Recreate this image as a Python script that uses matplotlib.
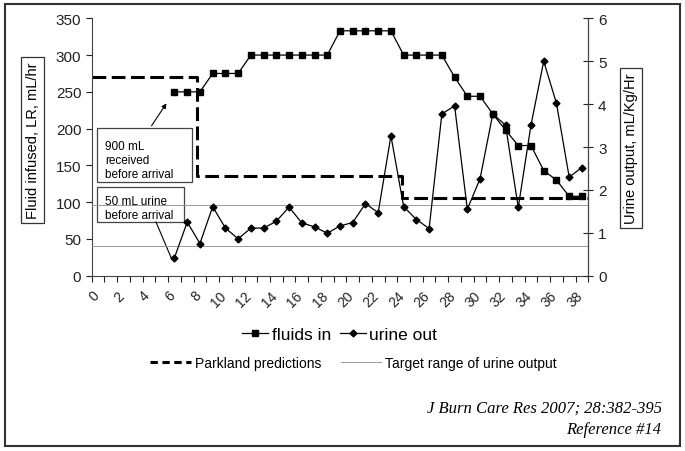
import matplotlib
matplotlib.use('Agg')
import matplotlib.pyplot as plt
from matplotlib.lines import Line2D
from matplotlib.patches import Rectangle
import numpy as np

plt.rcParams['font.family'] = ['Liberation Sans', 'DejaVu Sans']

# hourly data (category index = hour after burn)
hours = np.arange(6, 39)
fluids_in = [250, 250, 250, 275, 275, 275, 300, 300, 300, 300, 300, 300, 300,
             333, 333, 333, 333, 333, 300, 300, 300, 300, 270, 244, 244, 220,
             198, 177, 177, 143, 130, 108, 108]
urine_out = [0.42, 1.25, 0.75, 1.61, 1.11, 0.86, 1.11, 1.11, 1.27, 1.60, 1.23,
             1.14, 0.99, 1.16, 1.24, 1.68, 1.47, 3.26, 1.61, 1.31, 1.10, 3.77,
             3.96, 1.55, 2.26, 3.77, 3.51, 1.59, 3.51, 5.00, 4.02, 2.30, 2.52]

parkland_hours = [0, 8.3, 24.4, 39]
parkland_rate = [270, 136, 105, 105]
target_range = [0.7, 1.65]

x_labels = [str(i) if i % 2 == 0 else '' for i in range(40)]

fig = plt.figure(figsize=(6.85, 4.52), dpi=100)
ax = fig.add_axes([0.1339, 0.3878, 0.7249, 0.5695])
ax2 = ax.twinx()

x = hours + 0.5  # points sit in the middle of each hour slot

ax.step(parkland_hours, parkland_rate, where='post', color='black',
        lw=2.2, dashes=(4.5, 1.8), zorder=2)
for t in target_range:
    ax2.axhline(t, color='#999999', lw=0.7, zorder=1)

ax.plot(x, fluids_in, color='black', lw=0.9, marker='s', ms=4, zorder=3)
ax2.plot(x, urine_out, color='black', lw=0.9, marker='D', ms=3.5, zorder=3)

ax.set_xlim(0, 39)
ax.set_ylim(0, 350)
ax2.set_ylim(0, 6)
ax.set_yticks(range(0, 351, 50))
ax2.set_yticks(range(0, 7))
ax.set_xticks(range(40))
ax.set_xticklabels(x_labels, rotation=45, ha='right', rotation_mode='anchor')

for a in (ax, ax2):
    a.spines['top'].set_visible(False)
    a.patch.set_visible(False)
ax2.spines['left'].set_visible(False)
ax2.spines['bottom'].set_visible(False)
for s in ('left', 'bottom'):
    ax.spines[s].set_color('#444444')
ax2.spines['right'].set_color('#444444')

ax.tick_params(axis='y', direction='out', length=4, labelsize=11, colors='#222222')
ax.tick_params(axis='x', direction='out', length=4, labelsize=10, pad=5, colors='#222222')
ax2.tick_params(axis='y', direction='inout', length=7, labelsize=11, colors='#222222')

box = dict(boxstyle='square,pad=0.3', fc='white', ec='#333333', lw=0.9)
ax.set_ylabel('Fluid infused, LR, mL/hr', fontsize=10.5, bbox=box, va='center')
ax.yaxis.set_label_coords(-0.119, 0.527)
ax2.set_ylabel('Urine output, mL/Kg/Hr', fontsize=10.5, bbox=box, rotation=90,
               va='center')
ax2.yaxis.set_label_coords(1.086, 0.496)

# annotation boxes
ax.add_patch(Rectangle((0.42, 127.4), 7.46, 73.4, fc='white', ec='#444444',
                       lw=0.9, zorder=4))
ax.text(1.04, 157, '900 mL\nreceived\nbefore arrival', fontsize=8.5,
        va='center', ha='left', linespacing=1.25, zorder=5)
ax.annotate('', xy=(5.99, 237.5), xytext=(4.58, 200.8),
            arrowprops=dict(arrowstyle='-|>', color='black', lw=0.8,
                            mutation_scale=7), zorder=5)

ax.add_patch(Rectangle((0.42, 73), 6.84, 47.6, fc='white', ec='#444444',
                       lw=0.9, zorder=4))
ax.text(1.04, 92, '50 mL urine\nbefore arrival', fontsize=8.5,
        va='center', ha='left', linespacing=1.2, zorder=5)
ax.plot([5.05, 6.28], [73, 22.7], color='black', lw=0.8, zorder=5)

# legends
h1 = [Line2D([], [], color='black', lw=0.9, marker='s', ms=4),
      Line2D([], [], color='black', lw=0.9, marker='D', ms=3.5)]
fig.legend(h1, ['fluids in', 'urine out'], loc='center',
           bbox_to_anchor=(0.496, 0.258), ncol=2, frameon=False,
           fontsize=12.5, handlelength=1.5, handletextpad=0.2,
           columnspacing=0.5)
h2 = [Line2D([], [], color='black', lw=2.2, dashes=(2.4, 1.5)),
      Line2D([], [], color='#999999', lw=0.7)]
fig.legend(h2, ['Parkland predictions', 'Target range of urine output'],
           loc='center', bbox_to_anchor=(0.516, 0.195), ncol=2, frameon=False,
           fontsize=10, handlelength=2.9, handletextpad=0.3, columnspacing=1.4)

fig.text(0.966, 0.097, 'J Burn Care Res 2007; 28:382-395', ha='right',
         va='center', fontsize=12, style='italic', family='Liberation Serif')
fig.text(0.966, 0.049, 'Reference #14', ha='right', va='center', fontsize=12,
         style='italic', family='Liberation Serif')

fig.patches.append(Rectangle((0.0073, 0.011), 0.985, 0.978, fill=False,
                             ec='#333333', lw=1.5, transform=fig.transFigure,
                             figure=fig))

fig.savefig('out.png', dpi=100)
print('saved to out.png')
